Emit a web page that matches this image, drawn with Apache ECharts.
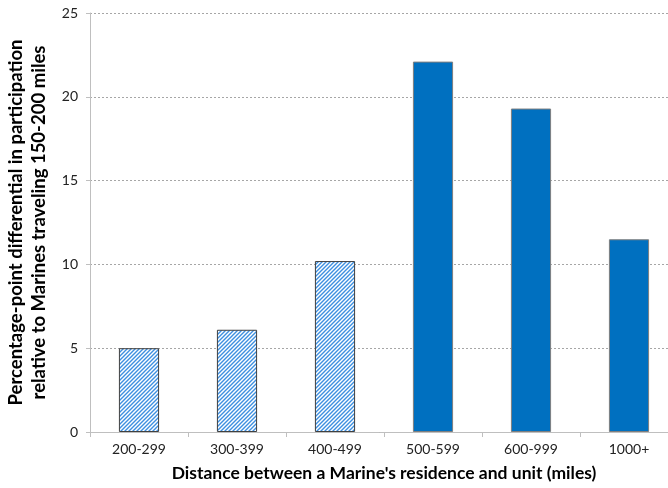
<!DOCTYPE html>
<html>
<head>
<meta charset="utf-8">
<script src="https://cdn.jsdelivr.net/npm/echarts@6/dist/echarts.min.js"></script>
<style>html,body{margin:0;padding:0;background:#fff}#c{width:668px;height:488px}</style>
</head>
<body>
<div id="c"></div>
<script>
const categories = ['200-299', '300-399', '400-499', '500-599', '600-999', '1000+'];
const values = [5.0, 6.1, 10.2, 22.1, 19.3, 11.5];
const hatched = [true, true, true, false, false, false];
const yTicks = [0, 5, 10, 15, 20, 25];

const pc = document.createElement('canvas');
pc.width = 4; pc.height = 4;
const g = pc.getContext('2d');
g.fillStyle = '#ffffff'; g.fillRect(0, 0, 4, 4);
g.strokeStyle = '#3d8fe0'; g.lineWidth = 1.4;
g.beginPath();
g.moveTo(-1, 5); g.lineTo(5, -1);
g.moveTo(-3, 3); g.lineTo(3, -3);
g.moveTo(1, 7); g.lineTo(7, 1);
g.stroke();

const font = 'Lato, "Open Sans", sans-serif';
const chart = echarts.init(document.getElementById('c'));
chart.setOption({
  animation: false,
  grid: { left: 90, top: 13, width: 588, height: 419, outerBoundsMode: 'none', containLabel: false },
  xAxis: {
    type: 'category',
    data: categories,
    axisLine: { lineStyle: { color: '#bfbfbf' } },
    axisTick: { show: true, length: 5, lineStyle: { color: '#bfbfbf' } },
    axisLabel: { color: '#222', fontSize: 14, fontFamily: font, margin: 10 },
    name: "Distance between a Marine's residence and unit (miles)",
    nameLocation: 'middle',
    nameGap: 32,
    nameTextStyle: { color: '#000', fontSize: 17.5, fontWeight: 'bold', fontFamily: font }
  },
  yAxis: {
    type: 'value',
    min: yTicks[0], max: yTicks[yTicks.length - 1], interval: 5,
    axisLine: { show: true, lineStyle: { color: '#bfbfbf' } },
    axisTick: { show: true, length: 4, lineStyle: { color: '#bfbfbf' } },
    axisLabel: { color: '#222', fontSize: 14, fontFamily: font, margin: 12 },
    splitLine: { lineStyle: { color: '#a6a6a6', type: [2, 2] } },
    name: 'Percentage-point differential in participation\nrelative to Marines traveling 150-200 miles',
    nameLocation: 'middle',
    nameGap: 29,
    nameTextStyle: { color: '#000', fontSize: 18.5, fontWeight: 'bold', fontFamily: font, lineHeight: 23 }
  },
  series: [{
    type: 'bar',
    barWidth: '41%',
    data: values.map((v, i) => ({
      value: v,
      itemStyle: hatched[i]
        ? { color: { image: pc, repeat: 'repeat' }, borderColor: '#404040', borderWidth: 1 }
        : { color: '#0070c0', borderColor: '#7f7f7f', borderWidth: 1 }
    }))
  }]
});
</script>
</body>
</html>
